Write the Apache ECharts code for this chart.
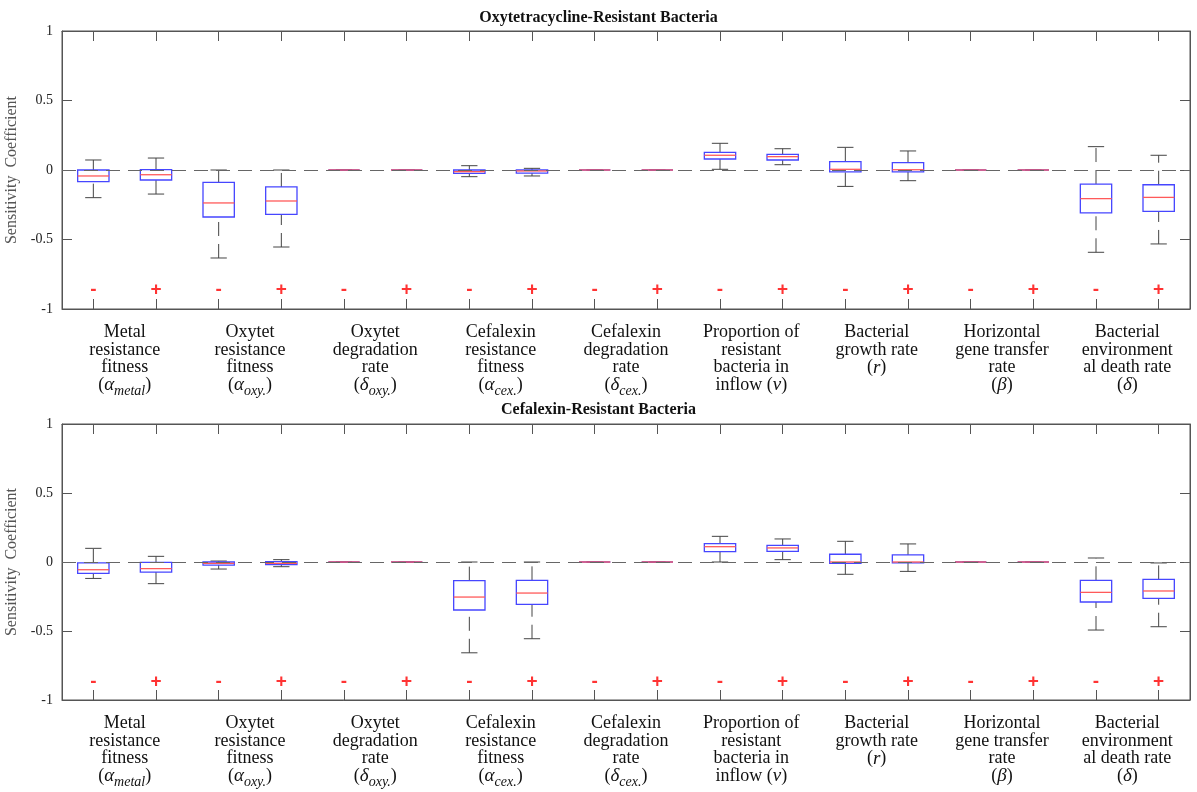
<!DOCTYPE html>
<html>
<head>
<meta charset="utf-8">
<script src="https://cdn.jsdelivr.net/npm/echarts@6/dist/echarts.min.js"></script>
<style>
html,body{margin:0;padding:0;background:#fff;}
#chart{width:1197px;height:792px;}
</style>
</head>
<body>
<div id="chart"></div>
<script>
// ---- data ----
const signs = ['-','+','-','+','-','+','-','+','-','+','-','+','-','+','-','+','-','+'];
const groupLabels = [
  'Metal\nresistance\nfitness\n({g|α}{s|metal})',
  'Oxytet\nresistance\nfitness\n({g|α}{s|oxy.})',
  'Oxytet\ndegradation\nrate\n({g|δ}{s|oxy.})',
  'Cefalexin\nresistance\nfitness\n({g|α}{s|cex.})',
  'Cefalexin\ndegradation\nrate\n({g|δ}{s|cex.})',
  'Proportion of\nresistant\nbacteria in\ninflow ({g|ν})',
  'Bacterial\ngrowth rate\n({g|r})',
  'Horizontal\ngene transfer\nrate\n({g|β})',
  'Bacterial\nenvironment\nal death rate\n({g|δ})'
];
const yTicks = [-1, -0.5, 0, 0.5, 1];
const signLevel = -0.865;
const titles = ['Oxytetracycline-Resistant Bacteria', 'Cefalexin-Resistant Bacteria'];

// Oxytetracycline-resistant bacteria
const oxyMin = [-0.199,-0.173,-0.633,-0.554,0,0,-0.048,-0.043,0,0,0.005,0.038,-0.118,-0.077,0,0,-0.592,-0.532];
const oxyQ1  = [-0.084,-0.072,-0.338,-0.319,0,0,-0.024,-0.022,0,0,0.079,0.072,-0.014,-0.014,0,0,-0.309,-0.297];
const oxyMed = [-0.043,-0.034,-0.237,-0.223,0,0,-0.012,-0.007,0,0,0.106,0.096,0.005,0.002,0,0,-0.206,-0.197];
const oxyQ3  = [0.000,0.002,-0.089,-0.122,0,0,0.000,0.000,0,0,0.127,0.113,0.060,0.053,0,0,-0.101,-0.106];
const oxyMax = [0.072,0.086,0.000,0.000,0,0,0.031,0.012,0,0,0.192,0.153,0.163,0.137,0,0,0.168,0.106];

// Cefalexin-resistant bacteria
const cexMin = [-0.119,-0.157,-0.051,-0.034,0,0,-0.658,-0.556,0,0,0.000,0.017,-0.089,-0.068,0,0,-0.493,-0.469];
const cexQ1  = [-0.082,-0.073,-0.022,-0.019,0,0,-0.348,-0.307,0,0,0.075,0.077,-0.010,-0.007,0,0,-0.290,-0.264];
const cexMed = [-0.056,-0.048,-0.010,-0.010,0,0,-0.254,-0.225,0,0,0.111,0.102,0.000,0.000,0,0,-0.220,-0.210];
const cexQ3  = [-0.007,-0.002,0.000,0.002,0,0,-0.135,-0.133,0,0,0.133,0.121,0.056,0.051,0,0,-0.133,-0.126];
const cexMax = [0.099,0.041,0.007,0.017,0,0,0.000,0.000,0,0,0.186,0.167,0.150,0.131,0,0,0.029,-0.007];

// ---- build ----
const FONT = 'Liberation Serif';
const positions = signs.map((s, i) => String(i));

function boxData(mn, q1, md, q3, mx) {
  return positions.map((p, i) => [i, mn[i], q1[i], md[i], q3[i], mx[i]]);
}

function renderBox(params, api) {
  const i = api.value(0);
  const pMin = api.coord([i, api.value(1)]);
  const pQ1 = api.coord([i, api.value(2)]);
  const pMed = api.coord([i, api.value(3)]);
  const pQ3 = api.coord([i, api.value(4)]);
  const pMax = api.coord([i, api.value(5)]);
  const band = api.size([1, 0])[0];
  const bw = band * 0.5, cw = band * 0.26;
  const cx = pMin[0];
  const wStyle = {stroke: '#444', lineWidth: 1, lineDash: [14, 8]};
  const capStyle = {stroke: '#444', lineWidth: 1};
  return {
    type: 'group',
    children: [
      {type: 'line', shape: {x1: cx, y1: pQ3[1], x2: cx, y2: pMax[1]}, style: wStyle},
      {type: 'line', shape: {x1: cx, y1: pMin[1], x2: cx, y2: pQ1[1]}, style: wStyle},
      {type: 'line', shape: {x1: cx - cw / 2, y1: pMax[1], x2: cx + cw / 2, y2: pMax[1]}, style: capStyle},
      {type: 'line', shape: {x1: cx - cw / 2, y1: pMin[1], x2: cx + cw / 2, y2: pMin[1]}, style: capStyle},
      {type: 'rect', shape: {x: cx - bw / 2, y: pQ3[1], width: bw, height: pQ1[1] - pQ3[1]},
        style: {fill: 'none', stroke: '#4646ff', lineWidth: 1.3}},
      {type: 'line', shape: {x1: cx - bw / 2, y1: pMed[1], x2: cx + bw / 2, y2: pMed[1]},
        style: {stroke: '#ff5a5a', lineWidth: 1.3}}
    ]
  };
}

const grids = [
  {left: 62, right: 7, top: 31, height: 278, show: true, borderColor: '#555', borderWidth: 1,
    containLabel: false, outerBoundsMode: 'none'},
  {left: 62, right: 7, top: 424, height: 276, show: true, borderColor: '#555', borderWidth: 1,
    containLabel: false, outerBoundsMode: 'none'}
];

const xAxes = [], yAxes = [], series = [];
const panels = [
  [oxyMin, oxyQ1, oxyMed, oxyQ3, oxyMax],
  [cexMin, cexQ1, cexMed, cexQ3, cexMax]
];

panels.forEach((pd, g) => {
  const base = xAxes.length;
  // main bottom axis (ticks)
  xAxes.push({
    type: 'category', gridIndex: g, data: positions, position: 'bottom',
    axisLine: {show: true, onZero: false, lineStyle: {color: '#555'}},
    axisTick: {show: true, inside: true, length: 10, alignWithLabel: true, interval: 0, lineStyle: {color: '#555'}},
    axisLabel: {show: false}, splitLine: {show: false}
  });
  // top axis (ticks)
  xAxes.push({
    type: 'category', gridIndex: g, data: positions, position: 'top',
    axisLine: {show: true, onZero: false, lineStyle: {color: '#555'}},
    axisTick: {show: true, inside: true, length: 10, alignWithLabel: true, interval: 0, lineStyle: {color: '#555'}},
    axisLabel: {show: false}, splitLine: {show: false}
  });
  // group label axis
  xAxes.push({
    type: 'category', gridIndex: g, data: groupLabels, position: 'bottom',
    axisLine: {show: false, onZero: false}, axisTick: {show: false}, splitLine: {show: false},
    axisLabel: {
      show: true, interval: 0, margin: 15, color: '#111',
      fontFamily: FONT, fontSize: 18, lineHeight: 17.5,
      rich: {
        g: {fontFamily: FONT, fontSize: 19, fontStyle: 'italic', lineHeight: 17.5, color: '#111'},
        s: {fontFamily: FONT, fontSize: 14, fontStyle: 'italic', lineHeight: 5, height: 5,
            padding: [12, 0, 0, 0], backgroundColor: 'rgba(255,255,255,0)',
            verticalAlign: 'bottom', color: '#111'}
      }
    }
  });
  const ybase = yAxes.length;
  yAxes.push({
    type: 'value', gridIndex: g, min: yTicks[0], max: yTicks[yTicks.length - 1], interval: 0.5,
    position: 'left',
    name: 'Sensitivity  Coefficient', nameLocation: 'middle', nameGap: 36,
    nameTextStyle: {fontFamily: FONT, fontSize: 16, color: '#555'},
    axisLine: {show: true, lineStyle: {color: '#555'}},
    axisTick: {show: true, inside: true, length: 10, lineStyle: {color: '#555'}},
    axisLabel: {fontFamily: FONT, fontSize: 14, color: '#222', margin: 9},
    splitLine: {show: false}
  });
  yAxes.push({
    type: 'value', gridIndex: g, min: yTicks[0], max: yTicks[yTicks.length - 1], interval: 0.5,
    position: 'right',
    axisLine: {show: true, lineStyle: {color: '#555'}},
    axisTick: {show: true, inside: true, length: 10, lineStyle: {color: '#555'}},
    axisLabel: {show: false}, splitLine: {show: false}
  });

  series.push({
    type: 'scatter', xAxisIndex: base, yAxisIndex: ybase, z: 1,
    symbolSize: 1, itemStyle: {color: 'rgba(0,0,0,0)'},
    silent: true,
    data: signs.map((s, i) => [i, signLevel]),
    label: {
      show: true, position: 'inside',
      formatter: p => signs[p.dataIndex],
      fontFamily: 'Liberation Sans', fontWeight: 'bold', fontSize: 19, color: '#ff0000'
    },
    markLine: {
      silent: true, symbol: 'none', label: {show: false},
      lineStyle: {color: '#666', type: [14, 8], width: 1.2},
      data: [{yAxis: 0}]
    }
  });
  series.push({
    type: 'custom', xAxisIndex: base, yAxisIndex: ybase, z: 3, silent: true,
    renderItem: renderBox,
    encode: {x: 0, y: [1, 2, 3, 4, 5]},
    data: boxData(pd[0], pd[1], pd[2], pd[3], pd[4])
  });
});

const chart = echarts.init(document.getElementById('chart'));
chart.setOption({
  animation: false,
  backgroundColor: '#fff',
  title: [
    {text: titles[0], left: 'center', top: 5, textStyle: {fontFamily: FONT, fontSize: 16, fontWeight: 'bold', color: '#111'}},
    {text: titles[1], left: 'center', top: 397, textStyle: {fontFamily: FONT, fontSize: 16, fontWeight: 'bold', color: '#111'}}
  ],
  grid: grids,
  xAxis: xAxes,
  yAxis: yAxes,
  series: series
});
</script>
</body>
</html>
